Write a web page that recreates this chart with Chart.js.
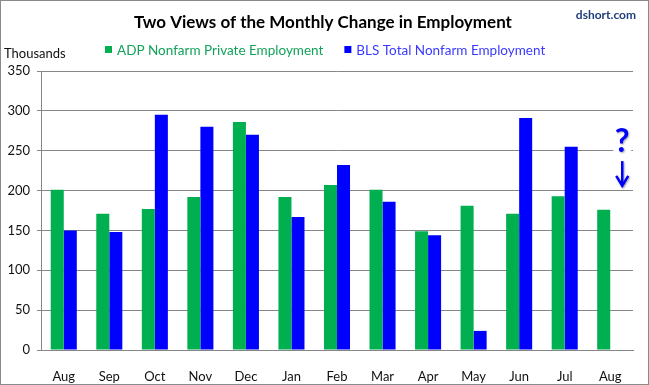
<!DOCTYPE html>
<html>
<head>
<meta charset="utf-8">
<script src="https://cdn.jsdelivr.net/npm/chart.js@4.4.1/dist/chart.umd.min.js"></script>
<style>
    html, body { margin: 0; padding: 0; background: #fff; }
    #wrap { width: 649px; height: 385px; box-sizing: border-box; border: 1px solid #8a8a8a; position: relative; }
</style>
</head>
<body>
<div id="wrap"><canvas id="chart"></canvas></div>
<script>
const months = ['Aug', 'Sep', 'Oct', 'Nov', 'Dec', 'Jan', 'Feb', 'Mar', 'Apr', 'May', 'Jun', 'Jul', 'Aug'];
const adpValues = [201, 171, 177, 192, 286, 192, 207, 201, 149, 181, 171, 193, 176];
const blsValues = [150, 148, 295, 280, 270, 167, 232, 186, 144, 24, 291, 255, null];
const yMax = 350;
const yStep = 50;

const titleText = 'Two Views of the Monthly Change in Employment';
const sourceText = 'dshort.com';
const unitText = 'Thousands';

const FONT = 'Lato, "Open Sans", sans-serif';
const GREEN = '#00b050';
const BLUE = '#0000ff';
const GRID = '#868686';

// "?" and arrow over the unreported August BLS figure (in data units)
const pendingMark = { index: 12, qBase: 248, arrowFrom: 237, arrowTo: 206 };

const decorPlugin = {
    id: 'decor',
    afterDraw(chart) {
        const ctx = chart.ctx;
        const x = chart.scales.x;
        const y = chart.scales.y;
        ctx.save();

        // title
        ctx.fillStyle = '#000';
        ctx.font = 'bold 17px ' + FONT;
        ctx.textAlign = 'center';
        ctx.textBaseline = 'alphabetic';
        ctx.fillText(titleText, 322, 27);

        // source
        ctx.fillStyle = '#1f3d7a';
        ctx.font = 'bold 12px ' + FONT;
        ctx.textAlign = 'right';
        ctx.fillText(sourceText, 635, 18);

        // unit label
        ctx.fillStyle = '#111';
        ctx.font = '13px ' + FONT;
        ctx.textAlign = 'left';
        ctx.fillText(unitText, 3, 57);

        // legend
        const legendColors = ['#13a25a', '#3a3aff'];
        let lx = 104;
        ctx.font = '13.5px ' + FONT;
        chart.data.datasets.forEach((ds, i) => {
            ctx.fillStyle = ds.backgroundColor;
            ctx.fillRect(lx, 45, 7, 7);
            ctx.fillStyle = legendColors[i];
            ctx.fillText(ds.label, lx + 12, 54);
            lx += 12 + ctx.measureText(ds.label).width + 21;
        });

        // pending mark
        const px = x.getPixelForValue(pendingMark.index) + 12;
        const qb = y.getPixelForValue(pendingMark.qBase);
        const a0 = y.getPixelForValue(pendingMark.arrowFrom);
        const a1 = y.getPixelForValue(pendingMark.arrowTo);
        ctx.fillStyle = '#fff';
        ctx.fillRect(px - 9, qb - 24, 18, 26);
        ctx.shadowColor = 'rgba(0,0,0,0.35)';
        ctx.shadowBlur = 2;
        ctx.shadowOffsetX = 1;
        ctx.shadowOffsetY = 1;
        ctx.fillStyle = BLUE;
        ctx.font = 'bold 32px ' + FONT;
        ctx.textAlign = 'center';
        ctx.fillText('?', px, qb);
        ctx.strokeStyle = BLUE;
        ctx.lineWidth = 2.5;
        ctx.beginPath();
        ctx.moveTo(px, a0);
        ctx.lineTo(px, a1 - 2);
        ctx.stroke();
        ctx.beginPath();
        ctx.moveTo(px - 6, a1 - 10);
        ctx.lineTo(px, a1);
        ctx.lineTo(px + 6, a1 - 10);
        ctx.stroke();
        ctx.restore();
    },
};

new Chart(document.getElementById('chart').getContext('2d'), {
    type: 'bar',
    data: {
        labels: months,
        datasets: [
            {
                label: 'ADP Nonfarm Private Employment',
                data: adpValues,
                backgroundColor: GREEN,
                categoryPercentage: 0.572,
                barPercentage: 1.0,
            },
            {
                label: 'BLS Total Nonfarm Employment',
                data: blsValues,
                backgroundColor: BLUE,
                categoryPercentage: 0.572,
                barPercentage: 1.0,
            },
        ],
    },
    options: {
        responsive: true,
        maintainAspectRatio: false,
        animation: false,
        layout: { padding: { top: 70, right: 15, left: 0, bottom: 0 } },
        plugins: {
            legend: { display: false },
            title: { display: false },
            tooltip: { enabled: false },
        },
        scales: {
            x: {
                grid: { display: false },
                border: { display: true, color: GRID, width: 1 },
                ticks: { color: '#111', font: { size: 13, family: FONT }, padding: 11, maxRotation: 0 },
                afterFit(scale) { scale.height = 34; },
            },
            y: {
                min: 0,
                max: yMax,
                grid: { color: GRID, lineWidth: 1, tickLength: 4, drawTicks: true },
                border: { display: true, color: GRID, width: 1 },
                ticks: { stepSize: yStep, color: '#111', font: { size: 13, family: FONT }, padding: 7 },
                afterFit(scale) { scale.width = 40; },
            },
        },
    },
    plugins: [decorPlugin],
});
</script>
</body>
</html>
